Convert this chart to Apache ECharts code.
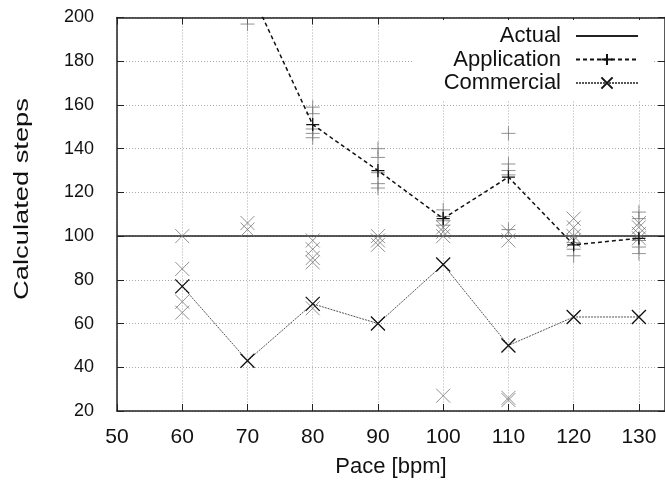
<!DOCTYPE html>
<html>
<head>
<meta charset="utf-8">
<script src="https://cdn.jsdelivr.net/npm/echarts@6/dist/echarts.min.js"></script>
<style>html,body{margin:0;padding:0;background:#fff}#c{width:665px;height:483px}</style>
</head>
<body>
<div id="c"></div>
<script>
// ---- data ----
const paces = [60, 70, 80, 90, 100, 110, 120, 130];
const appMean = [null, 215, 151, 130, 108, 127, 96, 99];
const comMean = [77, 43, 69, 60, 87, 50, 63, 63];
const appSamples = [[], [197], [159, 156, 149, 147, 145], [140, 136, 129, 124, 122], [112, 109, 107, 105], [147, 133, 130, 128, 103], [100, 97, 94, 91], [111, 108, 98, 95, 92]];
const comSamples = [[100, 85, 70, 65], [106, 103], [98, 94, 90, 88, 67], [100, 98, 96], [104, 102, 100, 27], [102, 98, 26, 25], [108, 104, 100, 98], [106, 104, 101, 99]];
const actualPace = [50, 134];
const actualSteps = [100, 100];
const xTicks = [50, 60, 70, 80, 90, 100, 110, 120, 130];
const yTicks = [20, 40, 60, 80, 100, 120, 140, 160, 180, 200];
const xTitle = 'Pace [bpm]';
const yTitle = 'Calculated steps';

const PLUS = 'path://M0,5L10,5M5,0L5,10';
const CROSS = 'path://M0,0L10,10M10,0L0,10';
const FONT = '"Liberation Sans", Arial, sans-serif';

function pairs(xs, ys) { return xs.map((x, i) => [x, ys[i]]); }
function flat(samples) {
  const out = [];
  samples.forEach((arr, i) => arr.forEach(v => out.push([paces[i], v])));
  return out;
}

const chart = echarts.init(document.getElementById('c'), null, { renderer: 'canvas' });
const axisLineStyle = { color: '#222', width: 1.5 };
const gridLine = { show: true, lineStyle: { color: '#aaa', type: [1, 2], width: 1 } };

chart.setOption({
  animation: false,
  backgroundColor: '#fff',
  textStyle: { fontFamily: FONT },
  grid: { left: 117, right: 0, top: 17.5, bottom: 72 },
  xAxis: [{
    type: 'value', min: xTicks[0], max: actualPace[1], interval: 10,
    position: 'bottom',
    name: xTitle, nameLocation: 'middle', nameGap: 45,
    nameTextStyle: { fontSize: 22, color: '#111', fontFamily: FONT },
    axisLine: { show: true, onZero: false, lineStyle: axisLineStyle },
    axisTick: { show: true, inside: true, length: 7, lineStyle: { color: '#222' } },
    axisLabel: { fontSize: 21, color: '#111', margin: 16, fontFamily: FONT, showMaxLabel: false,
      formatter: v => xTicks.includes(v) ? String(v) : '' },
    splitLine: gridLine
  }, {
    type: 'value', min: xTicks[0], max: actualPace[1], interval: 10,
    position: 'top',
    axisLine: { show: true, onZero: false, lineStyle: axisLineStyle },
    axisTick: { show: true, inside: true, length: 7, lineStyle: { color: '#222' } },
    axisLabel: { show: false }, splitLine: { show: false }
  }],
  yAxis: [{
    type: 'value', min: yTicks[0], max: yTicks[yTicks.length - 1], interval: 20,
    position: 'left',
    axisLine: { show: true, onZero: false, lineStyle: axisLineStyle },
    axisTick: { show: true, inside: true, length: 7, lineStyle: { color: '#222' } },
    axisLabel: { fontSize: 18, color: '#111', margin: 23, fontFamily: FONT },
    splitLine: gridLine
  }, {
    type: 'value', min: yTicks[0], max: yTicks[yTicks.length - 1], interval: 20,
    position: 'right',
    axisLine: { show: true, onZero: false, lineStyle: axisLineStyle },
    axisTick: { show: true, inside: true, length: 7, lineStyle: { color: '#222' } },
    axisLabel: { show: false }, splitLine: { show: false }
  }],
  graphic: [{
    type: 'text', x: 22, y: 199, rotation: Math.PI / 2, scaleX: 1.3,
    style: { text: yTitle, fontSize: 21, fontFamily: FONT, fill: '#111', align: 'center', verticalAlign: 'middle' }
  }],
  legend: {
    data: [{ name: 'Actual', itemStyle: { opacity: 0 } }, 'Application', 'Commercial'],
    orient: 'vertical', align: 'right', right: 12, top: 20,
    padding: [5, 14, 6, 30], backgroundColor: '#fff',
    itemWidth: 62, itemHeight: 14, itemGap: 1.5,
    textStyle: { fontSize: 22, color: '#111', fontFamily: FONT, lineHeight: 22, padding: [0, 10, 0, 0] },
    z: 10
  },
  series: [
    {
      name: 'Actual', type: 'line', data: pairs(actualPace, actualSteps),
      symbol: 'none', lineStyle: { color: '#222', width: 1.5, type: 'solid' },
      itemStyle: { color: '#222' }, z: 2
    },
    {
      name: 'appSamples', type: 'scatter', data: flat(appSamples),
      symbol: PLUS, symbolSize: 14,
      itemStyle: { color: 'transparent', borderColor: '#777', borderWidth: 1 }, z: 3
    },
    {
      name: 'comSamples', type: 'scatter', data: flat(comSamples),
      symbol: CROSS, symbolSize: 14,
      itemStyle: { color: 'transparent', borderColor: '#777', borderWidth: 1 }, z: 3
    },
    {
      name: 'Application', type: 'line', data: pairs(paces, appMean),
      symbol: PLUS, symbolSize: 13, showAllSymbol: true,
      lineStyle: { color: '#111', width: 1.5, type: [4, 3] },
      itemStyle: { color: 'transparent', borderColor: '#111', borderWidth: 1.3 }, z: 4
    },
    {
      name: 'Commercial', type: 'line', data: pairs(paces, comMean),
      symbol: CROSS, symbolSize: 14, showAllSymbol: true,
      lineStyle: { color: '#555', width: 1, type: [2, 1] },
      itemStyle: { color: 'transparent', borderColor: '#111', borderWidth: 1.3 }, z: 4
    }
  ]
});
</script>
</body>
</html>
